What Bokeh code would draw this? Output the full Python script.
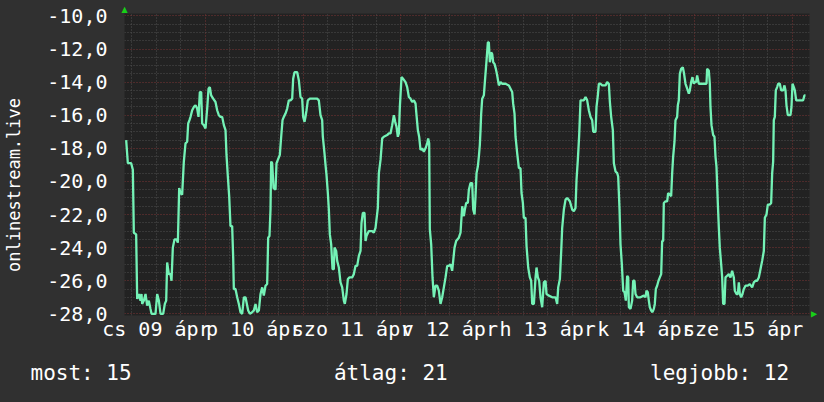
from bokeh.plotting import figure
from bokeh.models import ColumnDataSource, FixedTicker, CustomJSTickFormatter, Range1d, Title
from bokeh.embed import file_html
from bokeh.resources import INLINE

# ---- data: hours since 09 ápr 00:00, and the plotted values ----
hours = [
    4.58, 4.99, 5.81, 6.22, 6.46, 7.03, 7.28, 7.69, 8.10, 8.34, 8.51, 8.92, 9.33, 9.73, 10.14, 10.55, 10.80,
    11.78, 12.19, 12.60, 13.01, 13.66, 14.07, 14.40, 14.64, 15.05, 15.46, 15.71, 16.03, 16.44, 16.93, 17.26,
    17.59, 17.91, 18.32, 18.73, 19.14, 19.55, 19.80, 20.12, 20.37, 20.78, 21.19, 21.60, 22.00, 22.33, 22.66,
    22.99, 23.23, 23.64, 24.05, 24.46, 24.79, 25.11, 25.44, 25.93, 26.50, 26.91, 27.32, 27.73, 28.14, 28.55,
    28.96, 29.20, 29.53, 29.86, 30.18, 30.59, 30.84, 31.00, 31.41, 31.82, 32.23, 32.64, 33.05, 33.46, 33.87,
    34.27, 34.52, 34.93, 35.50, 35.91, 36.32, 36.73, 37.14, 37.55, 37.96, 38.36, 38.77, 39.18, 39.43, 39.75,
    40.00, 40.16, 40.41, 40.74, 41.23, 41.47, 41.80, 42.29, 42.62, 42.95, 43.27, 43.68, 44.09, 44.50, 44.91,
    45.32, 45.56, 45.89,
    46.14, 46.55, 46.96, 47.36, 47.77, 48.02, 48.35, 48.59, 48.84, 49.16, 49.65, 50.23, 51.45, 51.86, 52.27,
    52.68, 52.84, 53.25, 53.50, 53.74, 54.07, 54.32, 54.56, 54.89, 55.22, 55.54, 55.71, 56.12, 56.36, 56.77,
    57.18, 57.59, 58.00, 58.24, 58.65, 58.98, 59.39, 60.04, 60.45, 60.86, 61.27, 61.68, 62.09, 62.33, 62.66,
    63.07, 63.32, 63.56, 64.13, 64.95, 65.36, 65.77, 66.34, 66.59, 67.00, 67.41, 67.81, 68.63, 69.04, 69.45,
    69.86, 70.27, 70.60, 70.92, 71.25, 71.50, 71.74, 72.15, 72.56, 73.13, 73.54, 73.95, 74.36, 74.77, 75.18,
    75.59, 75.83, 76.16, 76.48, 76.81, 77.22, 77.63, 78.04, 78.45, 78.69, 78.94, 79.10, 79.43, 79.76, 80.08,
    80.49, 80.90, 81.31, 81.72, 82.13, 82.54, 82.95, 83.36, 83.77, 84.17, 84.58, 84.83, 85.16, 85.56, 86.22,
    86.63, 87.04, 87.45, 87.69, 88.02, 88.43, 88.68, 89.08, 89.49, 89.74, 90.07, 90.31, 90.56, 90.88, 91.13,
    91.37, 91.54, 91.70, 91.95, 92.36, 92.60, 93.01, 93.34, 93.58, 93.83, 94.16, 94.40, 94.65, 94.97, 95.30,
    95.63, 96.04, 96.45, 96.86, 97.67, 98.49, 98.90, 99.31, 99.55, 99.88, 100.13, 100.54, 100.95, 101.35,
    101.60, 101.93, 102.17, 102.58, 102.83, 103.24, 103.64, 103.97, 104.22, 104.63, 105.04, 105.28, 105.61,
    105.93, 106.26, 106.67, 107.08, 107.49, 107.73, 108.31, 109.13, 109.94, 110.35, 110.60, 111.01, 111.34,
    111.58, 111.99, 112.40, 112.81, 113.46, 114.03, 114.44, 114.85, 115.10, 115.42, 115.75, 116.08, 116.49,
    116.90, 117.31, 117.71, 118.12, 118.53, 118.94, 119.19, 119.76, 120.00, 120.33, 120.58, 120.99, 121.40,
    122.21, 122.62, 123.03, 123.28, 123.60, 124.01, 124.26, 124.67, 125.08, 125.32, 125.65, 125.89, 126.22,
    126.55, 126.88, 127.20, 127.53, 127.78, 127.94, 128.35,
    128.75, 129.00, 129.32, 129.57, 129.98, 130.79, 131.61, 132.02, 132.27, 132.59, 132.84, 133.08, 133.41,
    133.74, 134.07, 134.31, 134.56, 134.88, 135.21, 135.54, 135.87, 136.11, 136.36, 136.52, 136.93, 137.34,
    137.58, 137.99, 138.32, 138.57, 138.81, 139.14, 139.38, 139.79, 139.96, 140.20, 140.45, 140.77, 141.18,
    141.43, 141.84, 142.25, 142.66, 142.90, 143.23, 143.55, 143.88, 144.13, 144.45, 144.70, 145.11, 146.99,
    147.15, 147.56, 147.81, 147.97, 148.22, 148.63, 148.95, 149.20, 149.44, 149.77, 150.02, 150.26, 150.59,
    150.84, 151.08, 151.41, 151.65, 152.06, 152.47, 152.88, 153.29, 153.70, 153.94, 154.35, 154.68, 154.93,
    155.17, 155.50, 155.82, 156.15, 156.56, 157.13, 157.62, 158.20, 158.61, 159.02, 159.42, 159.83, 160.24,
    160.65, 161.06, 161.31, 161.71, 162.04, 162.53, 162.86, 163.11, 163.35, 163.51, 163.76, 164.00, 164.33,
    164.58, 164.99, 165.31, 165.80, 166.13, 166.38, 166.62, 166.95, 167.60, 167.85, 168.10, 168.42, 168.67,
    169.00, 169.40, 170.71, 171.04, 171.29,
]
values = [
    -17.5, -18.9, -18.9, -19.3, -23.1, -23.2, -27.1, -26.8, -27.2, -26.8, -27.4, -27.2, -26.8, -27.5, -27.2, -27.7, -28.0,
    -28.0, -26.8, -27.2, -28.0, -28.0, -27.4, -27.2, -24.9, -25.6, -25.6, -26.0, -24.0, -23.5, -23.5, -23.7,
    -20.4, -20.7, -20.8, -18.8, -17.7, -17.6, -16.5, -16.3, -16.1, -15.7, -15.5, -15.4, -15.6, -16.1, -14.6,
    -14.6, -16.5, -16.6, -16.8, -15.6, -14.4, -14.3, -14.8, -15.0, -15.2, -15.7, -16.0, -16.1, -16.1, -16.6,
    -16.9, -18.4, -19.7, -20.9, -22.7, -22.7, -24.6, -26.5, -26.5, -27.0, -27.4, -27.9, -28.0, -27.0, -27.0,
    -27.5, -27.8, -28.0, -27.9, -27.8, -27.4, -27.9, -27.8, -26.8, -26.4, -26.9, -26.3, -26.2, -23.4, -23.3,
    -21.7, -18.8, -18.9, -20.4, -20.5, -18.9, -18.7, -18.4, -17.3, -16.3, -16.1, -15.9, -15.6, -15.1, -15.1,
    -15.0, -13.8, -13.4,
    -13.4, -13.4, -13.9, -14.9, -15.0, -16.1, -16.4, -16.1, -15.7, -15.1, -15.0, -15.0, -15.0, -15.1, -16.0,
    -16.3, -17.3, -18.3, -19.0, -19.6, -20.7, -21.7, -23.2, -23.8, -25.3, -25.3, -24.0, -24.2, -24.8, -25.2,
    -26.1, -26.4, -27.2, -27.4, -26.8, -25.9, -25.8, -25.8, -25.6, -25.1, -25.1, -24.5, -24.2, -22.5, -21.9,
    -21.9, -23.6, -23.3, -23.0, -23.0, -23.1, -22.8, -21.6, -19.5, -18.7, -17.4, -17.3, -17.2, -17.1, -17.1,
    -16.6, -16.0, -16.4, -16.7, -17.3, -17.1, -15.5, -13.7, -13.8, -14.0, -14.3, -14.9, -15.0, -15.2, -15.1,
    -15.3, -16.0, -16.9, -17.3, -18.1, -18.0, -18.2, -18.0, -17.7, -17.4, -17.7, -22.9, -23.8, -25.8, -27.0,
    -26.3, -26.3, -26.6, -27.4, -27.0, -26.4, -25.8, -25.1, -25.1, -25.0, -25.4, -24.8, -24.0, -23.6, -23.4,
    -23.1, -21.5, -22.1, -21.7, -21.3, -21.3, -20.5, -20.1, -20.1, -21.7, -22.0, -20.9, -19.5, -19.1, -18.5,
    -17.8, -16.9, -15.9, -15.0, -14.8, -14.0, -12.7, -11.6, -11.6, -12.8, -12.2, -12.3, -12.8, -12.9, -13.2,
    -13.6, -14.2, -14.0, -14.1, -14.1, -14.2, -14.4, -14.6, -15.3, -15.9, -17.3, -18.3, -19.2, -19.2,
    -20.7, -21.3, -22.2, -22.2, -23.9, -25.2, -25.8, -26.0, -27.4, -27.4, -25.8, -25.2, -25.8,
    -26.0, -27.0, -27.6, -26.1, -26.0, -26.8, -26.9, -27.0, -27.0, -27.4, -26.4, -25.9, -24.2,
    -22.8, -21.7, -21.1, -21.0, -21.2, -21.7, -21.8, -21.6, -19.9, -18.7, -17.2, -15.1, -15.1,
    -15.1, -14.9, -15.1, -15.7, -16.1, -16.3, -17.0, -17.0, -15.5, -14.8, -14.1, -14.1, -14.2,
    -14.2, -14.0, -14.1, -15.2, -16.1, -16.9, -18.9, -19.4, -19.5, -19.7, -21.7, -23.8, -25.0,
    -26.6, -26.7, -27.2, -25.7, -25.8, -27.6, -27.7,
    -27.2, -26.0, -26.0, -26.8, -27.0, -27.0, -26.9, -27.0, -26.6, -26.7, -27.2, -27.6, -27.8,
    -27.9, -27.7, -27.4, -26.5, -26.3, -26.0, -25.8, -25.6, -23.6, -23.6, -21.3, -21.2, -21.2,
    -20.7, -20.8, -20.9, -19.5, -18.5, -17.6, -16.3, -16.1, -15.4, -15.1, -13.5, -13.2, -13.1,
    -13.4, -14.1, -14.4, -14.7, -14.5, -14.0, -13.7, -14.1, -14.0, -14.0, -13.6, -14.1, -14.1,
    -13.2, -13.3, -14.1, -15.5, -16.6, -17.2, -17.3, -18.5, -19.1, -21.3, -22.8, -24.0, -25.0,
    -25.8, -27.4, -27.4, -25.8, -25.7, -25.6, -25.8, -25.4, -25.8, -26.6, -26.8, -26.8, -26.1,
    -26.8, -27.0, -26.8, -26.5, -26.3, -26.3, -26.2, -26.4, -26.1, -26.0, -26.0, -25.8, -25.3,
    -24.8, -24.2, -22.2, -22.0, -21.4, -21.4, -21.3, -19.5, -18.8, -16.3, -16.1, -14.5, -14.3,
    -14.1, -14.1, -14.5, -14.5, -14.2, -14.5, -15.4, -16.0, -16.0, -15.5, -14.1, -14.3, -14.5,
    -15.1, -15.1, -15.1, -14.8, -14.8,
]

day_hours = [12, 36, 60, 84, 108, 132, 156]
day_labels = ["cs 09 ápr", "p 10 ápr", "szo 11 ápr", "v 12 ápr", "h 13 ápr", "k 14 ápr", "sze 15 ápr"]
y_ticks = [-28, -26, -24, -22, -20, -18, -16, -14, -12, -10]
legend_names = ["most", "átlag", "legjobb"]
legend_values = [15, 21, 12]
y_title = "onlinestream.live"

# ---- styling ----
FONT = "DejaVu Sans Mono"
BG = "#303030"
PLOT_BG = "#222222"
LINE = "#74f2b6"
TXT = "#ffffff"
ARROW = "#18d018"
NBSP = "\u00a0"

W, H = 824, 402
LEFT, RIGHT, TOP, BOTTOM = 124, 15, 13, 87
X0, X1 = 4.17, 172.27
Y0, Y1 = -28.1, -9.855

p = figure(width=W, height=H, output_backend="svg", toolbar_location=None, title=None,
           x_range=Range1d(X0, X1), y_range=Range1d(Y0, Y1),
           min_border_left=LEFT, min_border_right=RIGHT, min_border_top=TOP, min_border_bottom=BOTTOM,
           background_fill_color=PLOT_BG, border_fill_color=BG)
p.outline_line_color = None

src = ColumnDataSource(dict(t=hours, v=values))
p.line("t", "v", source=src, line_color=LINE, line_width=2.3)

# grids
midnights = list(range(0, 169, 24))
six_h = [h for h in range(0, 175, 6) if h % 24 != 0]
p.xgrid.ticker = FixedTicker(ticks=midnights, minor_ticks=six_h)
halfs = [-28 + 0.5 * i for i in range(37) if (i % 4) != 0]
p.ygrid.ticker = FixedTicker(ticks=y_ticks, minor_ticks=halfs)
for g in (p.xgrid, p.ygrid):
    g.grid_line_color = "#7a3434"
    g.grid_line_dash = "1 2"
    g.grid_line_width = 1
    g.minor_grid_line_color = "#4e4e4e"
    g.minor_grid_line_dash = "1 2"
    g.minor_grid_line_width = 1

# axes
xa = p.xaxis[0]
xa.ticker = FixedTicker(ticks=day_hours)
xa.major_label_overrides = {h: l for h, l in zip(day_hours, day_labels)}
ya = p.yaxis[0]
ya.ticker = FixedTicker(ticks=y_ticks)
ya.formatter = CustomJSTickFormatter(code="return tick.toFixed(1).replace('.', ',');")
for a in (xa, ya):
    a.axis_line_color = None
    a.major_tick_line_color = None
    a.minor_tick_line_color = None
    a.major_tick_in = 0
    a.major_tick_out = 0
    a.minor_tick_in = 0
    a.minor_tick_out = 0
    a.major_label_text_font = FONT
    a.major_label_text_font_size = "20px"
    a.major_label_text_color = TXT
xa.major_label_standoff = 1
ya.major_label_standoff = 17

# vertical title: axis label (trailing no-break spaces shift it down like the original)
ya.axis_label = y_title + NBSP * 4
ya.axis_label_standoff = 20
ya.axis_label_text_font = FONT
ya.axis_label_text_font_size = "17px"
ya.axis_label_text_font_style = "normal"
ya.axis_label_text_color = TXT

# legend line below: monospace columns padded with no-break spaces
cols = [0, 24, 49]
leg = ""
for c, name, val in zip(cols, legend_names, legend_values):
    leg += NBSP * (c - len(leg)) + f"{name}: {val}"
p.add_layout(Title(text=leg, align="left", offset=30 - LEFT, standoff=30,
                   text_font=FONT, text_font_size="21px", text_font_style="normal",
                   text_color=TXT), "below")

# small green axis arrows (top of y axis, end of x axis)
p.add_layout(Title(text="▲", align="left", offset=-3, standoff=0, text_font="DejaVu Sans",
                   text_font_size="8px", text_font_style="normal", text_color=ARROW), "above")
p.add_layout(Title(text="▲", align="right", offset=-2, standoff=0, text_font="DejaVu Sans",
                   text_font_size="8px", text_font_style="normal", text_color=ARROW), "right")

html = file_html(p, INLINE)
html = html.replace("</head>", "<style>html,body{background:#303030;}</style></head>", 1)
open("out.html", "w").write(html)
